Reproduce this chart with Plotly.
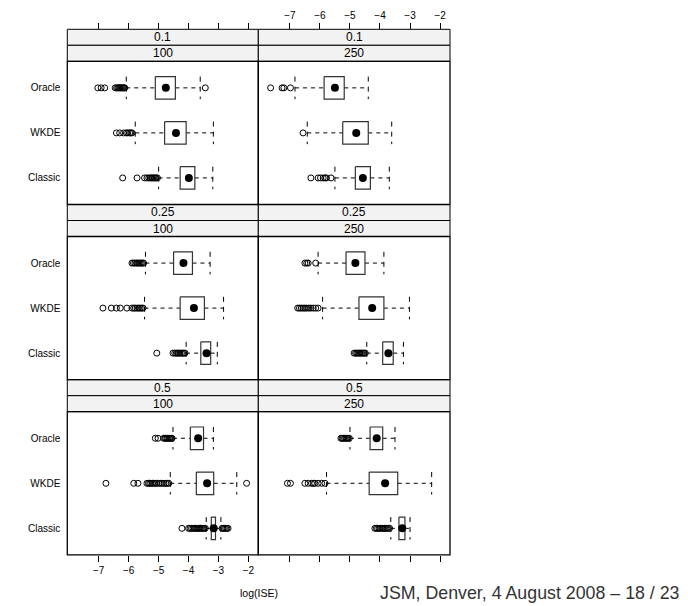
import plotly.graph_objects as go

W, H = 688, 606
FONT = "Liberation Sans, Arial, Helvetica, sans-serif"

methods = ["Oracle", "WKDE", "Classic"]
props = ["0.1", "0.25", "0.5"]
sizes = ["100", "250"]
x_ticks = [-7, -6, -5, -4, -3, -2]
x_title = "log(ISE)"
footer = "JSM, Denver, 4 August 2008 \u2013 18 / 23"

# ---- panel (0.1, 100); order Oracle, WKDE, Classic ----
lo_01_100 = [-6.08, -5.78, -5.00]
q1_01_100 = [-5.11, -4.80, -4.28]
med_01_100 = [-4.76, -4.42, -3.99]
q3_01_100 = [-4.44, -4.08, -3.79]
hi_01_100 = [-3.61, -3.17, -3.19]
out_01_100_oracle = [-7.03, -6.92, -6.80, -6.45, -6.40, -6.36, -6.33, -6.30, -6.27,
                     -6.24, -6.21, -6.18, -6.15, -6.13, -3.44]
out_01_100_wkde = [-6.41, -6.30, -6.17, -6.08, -6.03, -5.97, -5.93, -5.89]
out_01_100_classic = [-6.20, -5.72, -5.47, -5.39, -5.33, -5.28, -5.24, -5.20, -5.16,
                      -5.12, -5.08, -5.04]

# ---- panel (0.1, 250) ----
lo_01_250 = [-6.83, -6.42, -5.50]
q1_01_250 = [-5.86, -5.24, -4.82]
med_01_250 = [-5.50, -4.79, -4.57]
q3_01_250 = [-5.19, -4.39, -4.32]
hi_01_250 = [-4.39, -3.61, -3.69]
out_01_250_oracle = [-7.64, -7.26, -7.20, -6.98]
out_01_250_wkde = [-6.56]
out_01_250_classic = [-6.30, -6.06, -5.98, -5.89, -5.83, -5.78, -5.63]

# ---- panel (0.25, 100) ----
lo_025_100 = [-5.44, -5.47, -4.08]
q1_025_100 = [-4.50, -4.28, -3.59]
med_025_100 = [-4.17, -3.82, -3.40]
q3_025_100 = [-3.87, -3.47, -3.26]
hi_025_100 = [-3.28, -2.83, -3.04]
out_025_100_oracle = [-5.89, -5.84, -5.79, -5.74, -5.70, -5.66, -5.62, -5.58, -5.54, -5.50]
out_025_100_wkde = [-6.86, -6.58, -6.41, -6.28, -6.06, -5.89, -5.83, -5.78, -5.72,
                    -5.67, -5.62, -5.57, -5.52]
out_025_100_classic = [-5.06, -4.52, -4.46, -4.41, -4.37, -4.33, -4.29, -4.24, -4.20,
                       -4.16, -4.12]

# ---- panel (0.25, 250) ----
lo_025_250 = [-6.06, -5.91, -4.44]
q1_025_250 = [-5.13, -4.70, -3.91]
med_025_250 = [-4.82, -4.26, -3.72]
q3_025_250 = [-4.50, -3.87, -3.56]
hi_025_250 = [-3.87, -3.02, -3.22]
out_025_250_oracle = [-6.50, -6.44, -6.39, -6.14]
out_025_250_wkde = [-6.74, -6.68, -6.62, -6.56, -6.50, -6.44, -6.37, -6.30, -6.22,
                    -6.14, -6.06]
out_025_250_classic = [-4.86, -4.81, -4.77, -4.73, -4.69, -4.65, -4.61, -4.57, -4.53, -4.49]

# ---- panel (0.5, 100) ----
lo_05_100 = [-4.52, -4.61, -3.41]
q1_05_100 = [-3.94, -3.74, -3.24]
med_05_100 = [-3.68, -3.38, -3.16]
q3_05_100 = [-3.50, -3.16, -3.10]
hi_05_100 = [-3.17, -2.39, -2.92]
out_05_100_oracle = [-5.11, -5.02, -4.83, -4.79, -4.76, -4.72, -4.69, -4.65, -4.62,
                     -4.58, -4.55]
out_05_100_wkde = [-6.76, -5.83, -5.69, -5.39, -5.34, -5.30, -5.26, -5.21, -5.17,
                   -5.12, -5.07, -5.00, -4.94, -4.88, -4.82, -4.76, -4.71, -4.66, -2.06]
out_05_100_classic = [-4.22, -4.00, -3.95, -3.90, -3.85, -3.80, -3.76, -3.72, -3.68,
                      -3.64, -3.60, -3.56, -3.52, -3.48, -3.44,
                      -2.88, -2.84, -2.80, -2.76, -2.72, -2.68]

# ---- panel (0.5, 250) ----
lo_05_250 = [-5.00, -5.78, -3.64]
q1_05_250 = [-4.33, -4.36, -3.37]
med_05_250 = [-4.11, -3.83, -3.26]
q3_05_250 = [-3.91, -3.41, -3.17]
hi_05_250 = [-3.50, -2.28, -3.00]
out_05_250_oracle = [-5.30, -5.26, -5.22, -5.18, -5.14, -5.10, -5.06, -5.02]
out_05_250_wkde = [-7.08, -6.98, -6.50, -6.39, -6.28, -6.22, -6.17, -6.06, -5.94, -5.83]
out_05_250_classic = [-4.17, -4.12, -4.08, -4.03, -3.99, -3.94, -3.90, -3.85, -3.81,
                      -3.77, -3.72, -3.68]

panels = [
    (0, 0, lo_01_100, q1_01_100, med_01_100, q3_01_100, hi_01_100,
     [out_01_100_oracle, out_01_100_wkde, out_01_100_classic]),
    (0, 1, lo_01_250, q1_01_250, med_01_250, q3_01_250, hi_01_250,
     [out_01_250_oracle, out_01_250_wkde, out_01_250_classic]),
    (1, 0, lo_025_100, q1_025_100, med_025_100, q3_025_100, hi_025_100,
     [out_025_100_oracle, out_025_100_wkde, out_025_100_classic]),
    (1, 1, lo_025_250, q1_025_250, med_025_250, q3_025_250, hi_025_250,
     [out_025_250_oracle, out_025_250_wkde, out_025_250_classic]),
    (2, 0, lo_05_100, q1_05_100, med_05_100, q3_05_100, hi_05_100,
     [out_05_100_oracle, out_05_100_wkde, out_05_100_classic]),
    (2, 1, lo_05_250, q1_05_250, med_05_250, q3_05_250, hi_05_250,
     [out_05_250_oracle, out_05_250_wkde, out_05_250_classic]),
]

# ---- layout geometry (pixels) ----
col_x = [67.3, 258.3, 450.0]
row_top0 = 29.3
row_h = 175.2
strip_h = 16.0
half = 0.25  # half box height in category units


def px(x):
    return x / W


def py(y):
    return 1 - y / H


fig = go.Figure()
layout = dict(
    width=W, height=H, margin=dict(l=0, r=0, t=0, b=0),
    paper_bgcolor="white", plot_bgcolor="rgba(0,0,0,0)",
    showlegend=False, font=dict(family=FONT, color="black"),
)
shapes = []
annotations = []

for (r, c, lo, q1, med, q3, hi, outs) in panels:
    k = r * 2 + c + 1
    xa = "x" if k == 1 else f"x{k}"
    ya = "y" if k == 1 else f"y{k}"
    top = row_top0 + r * row_h
    ptop = top + 2 * strip_h
    pbot = top + row_h
    xl, xr = col_x[c], col_x[c + 1]

    xaxis = dict(domain=[px(xl), px(xr)], range=[-8.05, -1.67], tickvals=x_ticks,
                 showgrid=False, zeroline=False, showline=False,
                 tickfont=dict(size=10, color="black", family=FONT),
                 ticklen=6, tickwidth=1, tickcolor="black")
    if r == 0:
        xaxis.update(side="top", anchor="free", position=py(top), ticks="outside",
                     showticklabels=(c == 1))
    elif r == 2:
        xaxis.update(side="bottom", anchor="free", position=py(pbot), ticks="outside",
                     showticklabels=(c == 0))
    else:
        xaxis.update(anchor=ya, ticks="", showticklabels=False)
    yaxis = dict(domain=[py(pbot), py(ptop)], range=[3.59, 0.41], tickvals=[1, 2, 3],
                 ticktext=methods, showticklabels=(c == 0), anchor=xa,
                 showgrid=False, zeroline=False, showline=False,
                 ticks="outside", ticklen=4, tickcolor="rgba(0,0,0,0)",
                 tickfont=dict(size=10, color="black", family=FONT))
    layout["xaxis" if k == 1 else f"xaxis{k}"] = xaxis
    layout["yaxis" if k == 1 else f"yaxis{k}"] = yaxis

    pos = [1, 2, 3]
    wx, wy, cx, cy, bx, by, ox, oy = [], [], [], [], [], [], [], []
    for i, yc in enumerate(pos):
        wx += [lo[i], q1[i], None, q3[i], hi[i], None]
        wy += [yc, yc, None, yc, yc, None]
        cx += [lo[i], lo[i], None, hi[i], hi[i], None]
        cy += [yc - half, yc + half, None, yc - half, yc + half, None]
        bx += [q1[i], q3[i], q3[i], q1[i], q1[i], None]
        by += [yc - half, yc - half, yc + half, yc + half, yc - half, None]
        ox += outs[i]
        oy += [yc] * len(outs[i])

    fig.add_trace(go.Scatter(x=wx, y=wy, mode="lines", xaxis=xa, yaxis=ya,
                             line=dict(color="black", width=1, dash="4px,4px"),
                             hoverinfo="skip"))
    fig.add_trace(go.Scatter(x=cx, y=cy, mode="lines", xaxis=xa, yaxis=ya,
                             line=dict(color="black", width=1, dash="5px,5px"),
                             hoverinfo="skip"))
    fig.add_trace(go.Scatter(x=bx, y=by, mode="lines", xaxis=xa, yaxis=ya,
                             line=dict(color="#333333", width=1.2),
                             hoverinfo="skip"))
    fig.add_trace(go.Scatter(x=ox, y=oy, mode="markers", xaxis=xa, yaxis=ya,
                             marker=dict(symbol="circle-open", size=6, color="black",
                                         line=dict(width=1, color="black"))))
    fig.add_trace(go.Scatter(x=med, y=pos, mode="markers", xaxis=xa, yaxis=ya,
                             marker=dict(symbol="circle", size=8, color="black")))

    # strips
    for lvl, label in enumerate([props[r], sizes[c]]):
        s0 = top + lvl * strip_h
        shapes.append(dict(type="rect", xref="paper", yref="paper",
                           x0=px(xl), x1=px(xr), y0=py(s0 + strip_h), y1=py(s0),
                           fillcolor="#f2f2f2", line=dict(color="black", width=1),
                           layer="below"))
        annotations.append(dict(xref="paper", yref="paper",
                                x=px((xl + xr) / 2), y=py(s0 + strip_h / 2),
                                text=label, showarrow=False,
                                font=dict(size=12, color="black", family=FONT),
                                xanchor="center", yanchor="middle"))
    # panel frame
    shapes.append(dict(type="rect", xref="paper", yref="paper",
                       x0=px(xl), x1=px(xr), y0=py(pbot), y1=py(ptop),
                       line=dict(color="black", width=1.3), layer="above"))

annotations.append(dict(xref="paper", yref="paper", x=px(258.5), y=py(593),
                        text=x_title, showarrow=False,
                        font=dict(size=10.5, color="black", family=FONT),
                        xanchor="center", yanchor="middle"))
annotations.append(dict(xref="paper", yref="paper", x=px(377.5), y=py(593),
                        text=footer, showarrow=False,
                        font=dict(size=17.8, color="#333333", family=FONT),
                        xanchor="left", yanchor="middle"))

layout["shapes"] = shapes
layout["annotations"] = annotations
fig.update_layout(**layout)
fig.write_html("out.html",
               config={"displayModeBar": False},
               post_script="document.body.style.margin='0px';"
                           "document.body.style.overflow='hidden';")
